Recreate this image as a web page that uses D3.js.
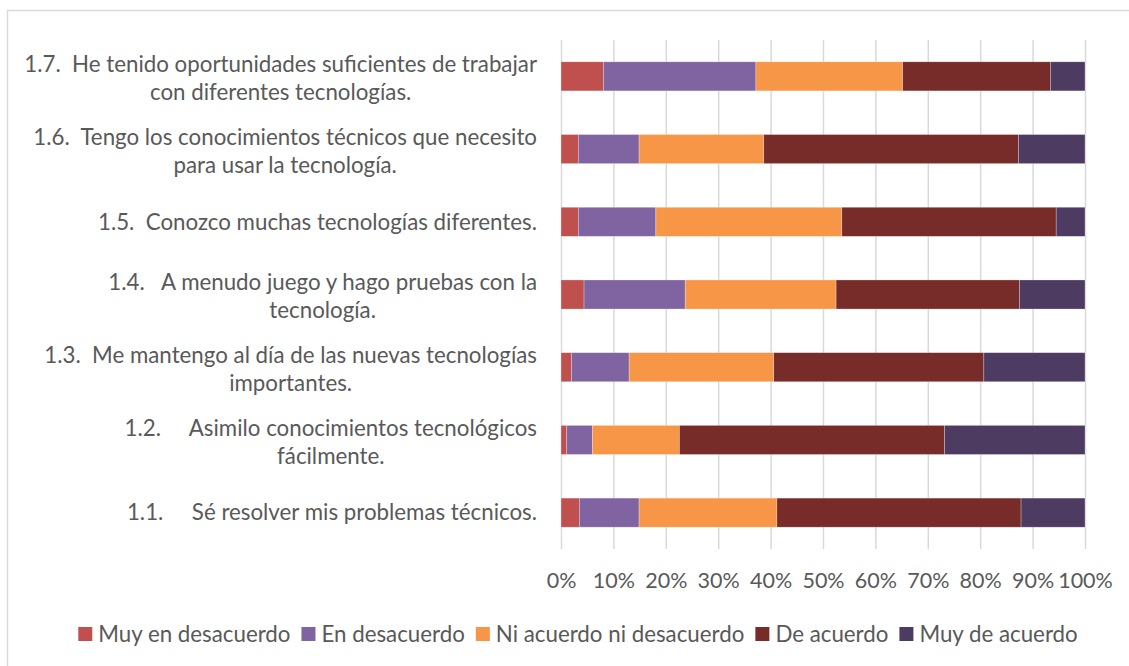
<!DOCTYPE html>
<html>
<head>
<meta charset="utf-8">
<script src="https://cdn.jsdelivr.net/npm/d3@7"></script>
<style>
  html, body { margin: 0; padding: 0; background: #fff; }
  svg text { font-family: Lato, "Open Sans", sans-serif; fill: #595959; white-space: pre; }
</style>
</head>
<body>
<div id="chart"></div>
<script>
// --- Data (top row first) ---
const categories = ["1.7", "1.6", "1.5", "1.4", "1.3", "1.2", "1.1"];
const labelLines = [
  ["1.7.  He tenido oportunidades suficientes de trabajar", "con diferentes tecnologías."],
  ["1.6.  Tengo los conocimientos técnicos que necesito", "para usar la tecnología."],
  ["1.5.  Conozco muchas tecnologías diferentes."],
  ["1.4.   A menudo juego y hago pruebas con la", "tecnología."],
  ["1.3.  Me mantengo al día de las nuevas tecnologías", "importantes."],
  ["1.2.     Asimilo conocimientos tecnológicos", "fácilmente."],
  ["1.1.     Sé resolver mis problemas técnicos."]
];

const seriesNames = ["Muy en desacuerdo", "En desacuerdo", "Ni acuerdo ni desacuerdo", "De acuerdo", "Muy de acuerdo"];
const muyEnDesacuerdo = [8.1, 3.3, 3.3, 4.4, 2.0, 1.1, 3.5];
const enDesacuerdo    = [29.1, 11.6, 14.8, 19.3, 11.0, 4.9, 11.4];
const niAcuerdo       = [28.0, 23.8, 35.5, 28.8, 27.6, 16.6, 26.3];
const deAcuerdo       = [28.2, 48.6, 40.9, 35.0, 40.1, 50.6, 46.6];
const muyDeAcuerdo    = [6.6, 12.7, 5.5, 12.5, 19.3, 26.8, 12.2];
const seriesValues = [muyEnDesacuerdo, enDesacuerdo, niAcuerdo, deAcuerdo, muyDeAcuerdo];
const seriesColors = ["#C0504D", "#8064A2", "#F79646", "#772C2A", "#4D3B62"];
const xTicks = [0, 0.1, 0.2, 0.3, 0.4, 0.5, 0.6, 0.7, 0.8, 0.9, 1];

// --- Layout ---
const W = 1129, H = 666;
const PLOT = { left: 561, right: 1085, top: 40, bottom: 549 };
const FONT = 22.3;
const TICK_FONT = 21.5;
const LINE_H = 28;

const svg = d3.select("#chart").append("svg")
  .attr("width", W).attr("height", H);

// chart area border
svg.append("rect")
  .attr("x", 7.5).attr("y", 10.5)
  .attr("width", W + 10).attr("height", H + 10)
  .attr("fill", "#fff").attr("stroke", "#D9D9D9").attr("stroke-width", 1.5);

const x = d3.scaleLinear().domain([0, 1]).range([PLOT.left, PLOT.right]);
const y = d3.scaleBand().domain(categories).range([PLOT.top, PLOT.bottom])
  .paddingInner(0.6).paddingOuter(0.3);

// gridlines
svg.append("g")
  .attr("transform", `translate(0,${PLOT.top})`)
  .call(d3.axisTop(x).tickValues(xTicks).tickSize(-(PLOT.bottom - PLOT.top)).tickFormat(""))
  .call(g => g.select(".domain").remove())
  .call(g => g.selectAll("line").attr("stroke", "#D9D9D9").attr("stroke-width", 1.5));

// tick labels
svg.append("g")
  .attr("transform", `translate(0,${PLOT.bottom})`)
  .call(d3.axisBottom(x).tickValues(xTicks).tickSize(0).tickPadding(0).tickFormat(d3.format(".0%")))
  .call(g => g.select(".domain").remove())
  .call(g => g.selectAll("text")
    .attr("y", 39).attr("dy", 0)
    .style("font-size", TICK_FONT + "px").style("font-family", "Lato, sans-serif").attr("fill", "#595959"));

// stacked bars
const rows = categories.map((c, i) => {
  const r = { cat: c };
  seriesNames.forEach((s, j) => { r[s] = seriesValues[j][i] / 100; });
  return r;
});
const stack = d3.stack().keys(seriesNames)(rows);

svg.append("g").selectAll("g")
  .data(stack).join("g")
  .attr("fill", (d, i) => seriesColors[i])
  .selectAll("rect")
  .data(d => d).join("rect")
  .attr("x", d => x(d[0]))
  .attr("width", d => x(d[1]) - x(d[0]))
  .attr("y", d => y(d.data.cat))
  .attr("height", y.bandwidth())
  .attr("stroke", "#fff").attr("stroke-width", 0.6).attr("stroke-opacity", 0.45);

// category labels: first line right-aligned, wrapped lines centred under it
const labelRight = 537;
const labels = svg.append("g").style("font-size", FONT + "px");
categories.forEach((c, i) => {
  const lines = labelLines[i];
  const cy = y(c) + y.bandwidth() / 2;
  const top = cy - (lines.length - 1) * LINE_H / 2 + (lines.length > 1 ? 2 : 0);
  const first = labels.append("text")
    .attr("x", labelRight).attr("y", top).attr("dy", "0.35em")
    .attr("text-anchor", "end").text(lines[0]);
  const w = first.node().getComputedTextLength();
  const mid = labelRight - w / 2;
  lines.slice(1).forEach((ln, k) => {
    labels.append("text")
      .attr("x", mid).attr("y", top + (k + 1) * LINE_H).attr("dy", "0.35em")
      .attr("text-anchor", "middle").text(ln);
  });
});

// legend
const legend = svg.append("g").style("font-size", FONT + "px");
const SW = 14, GAP = 6, ITEM_GAP = 11;
const items = seriesNames.map((s, i) => {
  const g = legend.append("g");
  g.append("rect").attr("width", SW).attr("height", SW).attr("y", -SW / 2).attr("fill", seriesColors[i]);
  const t = g.append("text").attr("x", SW + GAP).attr("dy", "0.35em").text(s);
  return { g, w: SW + GAP + t.node().getComputedTextLength() };
});
const total = d3.sum(items, d => d.w) + ITEM_GAP * (items.length - 1);
let lx = 578 - total / 2;
items.forEach(it => {
  it.g.attr("transform", `translate(${lx},634)`);
  lx += it.w + ITEM_GAP;
});
</script>
</body>
</html>
